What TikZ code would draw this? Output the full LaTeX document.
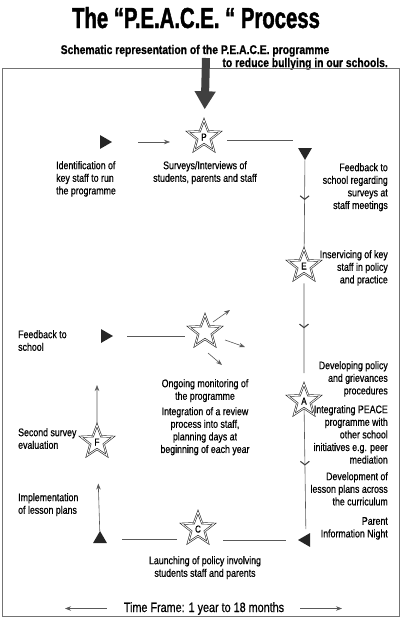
\documentclass[tikz,border=0pt]{standalone}
\usepackage{fontspec}
\setmainfont{Liberation Sans}[FakeStretch=0.8,FakeBold=0.6]
\newfontfamily\headfont{Liberation Sans}[FakeStretch=0.7,FakeBold=1.5]
\newfontfamily\subfont{Liberation Sans}[FakeStretch=0.82,FakeBold=0.8]
\usetikzlibrary{shapes.geometric,arrows.meta,decorations.markings}

\begin{document}
\begin{tikzpicture}[x=1pt,y=-1pt,>={Stealth[length=6pt,width=4.5pt]},
    every node/.style={font=\fontsize{11}{12.6}\selectfont,inner sep=0pt},
    peace/.style={star,star points=5,star point ratio=2.4,inner sep=1.5pt,
      text width=6pt,text height=7pt,text depth=0pt,align=center,
      draw=black!85,line width=.6pt,double,double distance=.8pt,
      font=\fontsize{10}{10}\selectfont},
    tri/.style={regular polygon,regular polygon sides=3,fill=black!85,minimum size=16pt},
    link/.style={black!65,line width=.6pt},
    chev/.style={postaction={decorate,decoration={markings,
      mark=at position #1 with {\arrow[black!75,line width=1.1pt]{Straight Barb[length=3.5pt,width=9pt]}}}}},
    head/.style={font=\headfont\bfseries\fontsize{#1}{#1}\selectfont},
    subhead/.style={font=\subfont\bfseries\fontsize{12.6}{13}\selectfont}]
    \useasboundingbox (0,0) rectangle (404,621);

    % heading
    \node[head=29,anchor=base] (title) at (196,28) {The “P.E.A.C.E. “ Process};
    \node[subhead,anchor=base] (sub1) at (195,54) {Schematic representation of the P.E.A.C.E. programme};
    \node[subhead,anchor=base east] (sub2) at (388,67) {to reduce bullying in our schools.};
    \draw[black!55,line width=.9pt] (2.5,68.5) rectangle (399,616);

    % the five steps
    \node[peace] (P) at (204,137) {P};
    \node[peace] (E) at (304,266) {E};
    \node[peace] (A) at (304,401) {A};
    \node[peace] (C) at (198,529) {C};
    \node[peace] (F) at (97,442) {F};
    \node[peace] (M) at (205,332) {};

    % markers
    \node[tri,shape border rotate=-90] (t1) at (104,142) {};
    \node[tri,shape border rotate=180] (t2) at (305,152) {};
    \node[tri,shape border rotate=90] (t3) at (306,540) {};
    \node[tri] (t4) at (100,539) {};
    \node[tri,shape border rotate=-90] (t5) at (105,336) {};

    % texts
    \node[anchor=north west,align=left] (idkey) at (56,161) {Identification of\\key staff to run\\the programme};
    \node[anchor=north,align=center] (surv) at (205,161) {Surveys/Interviews of\\students, parents and staff};
    \node[anchor=north east,align=right] (fbstaff) at (388,163) {Feedback to\\school regarding\\surveys at\\staff meetings};
    \node[anchor=north east,align=right] (inserv) at (388,250) {Inservicing of key\\staff in policy\\and practice};
    \node[anchor=north east,align=right] (devpol) at (388,361) {Developing policy\\and grievances\\procedures};
    \node[anchor=north east,align=right] (integ) at (388,405) {Integrating PEACE\\programme with\\other school\\initiatives e.g. peer\\mediation};
    \node[anchor=north east,align=right] (devles) at (388,472) {Development of\\lesson plans across\\the curriculum};
    \node[anchor=north east,align=right] (night) at (388,517) {Parent\\Information Night};
    \node[anchor=north,align=center] (launch) at (205,556) {Launching of policy involving\\students staff and parents};
    \node[anchor=north west,align=left] (impl) at (18,493) {Implementation\\of lesson plans};
    \node[anchor=north west,align=left] (second) at (18,428) {Second survey\\evaluation};
    \node[anchor=north west,align=left] (fbschool) at (18,330) {Feedback to\\school};
    \node[anchor=north,align=center] (ongo) at (205,379) {Ongoing monitoring of\\the programme};
    \node[anchor=north,align=center] (review) at (205,407) {Integration of a review\\process into staff,\\planning days at\\beginning of each year};
    \node[font=\fontsize{13.5}{14}\selectfont,anchor=base] (time) at (204,612) {Time Frame: 1 year to 18 months};

    % entry arrow
    \coordinate (in) at (206,58);
    \draw[black!75,line width=8pt,-{Triangle[length=18pt,width=20pt]},shorten >=11pt] (in) -- (P);

    % the loop
    \draw[link,->,shorten <=26pt,shorten >=34pt] (t1) -- (t1 -| P);
    \draw[link,shorten <=23pt,shorten >=12pt] ([yshift=2pt]t1 -| P) -- ([yshift=2pt]t1 -| t2);
    \draw[link,chev=.45] (t2) -- (E);
    \draw[link,chev=.5,shorten <=10pt,shorten >=10pt] (E) -- (A);
    \draw[link,chev=.45,shorten >=6pt] (A) -- (t3);
    \draw[link,shorten <=12pt,shorten >=25pt] (t3) -- (t3 -| C);
    \draw[link,shorten <=21pt,shorten >=17pt] (t4 -| C) -- (t4);
    \draw[link,->,shorten >=34pt] (t4) -- (F);
    \draw[link,->,shorten >=49pt] (F) -- (F |- t5);
    \draw[link,shorten <=14pt,shorten >=20pt] (t5) -- (t5 -| M);

    % review arrows
    \coordinate (m1) at ([shift={(25,-22)}]M.center);
    \coordinate (m2) at ([shift={(40,15)}]M.center);
    \coordinate (m3) at ([shift={(17,33)}]M.center);
    \draw[link,->] ([shift={(8,-10)}]M.center) -- (m1);
    \draw[link,->] ([shift={(20,8)}]M.center) -- (m2);
    \draw[link,->] ([shift={(3,21)}]M.center) -- (m3);

    % time frame
    \coordinate (tl) at (65,608);
    \coordinate (tr) at (342,608);
    \draw[link,->,shorten <=17pt] (time.west) -- (time.west -| tl);
    \draw[link,->,shorten <=16pt] (time.east) -- (time.east -| tr);
\end{tikzpicture}
\end{document}
